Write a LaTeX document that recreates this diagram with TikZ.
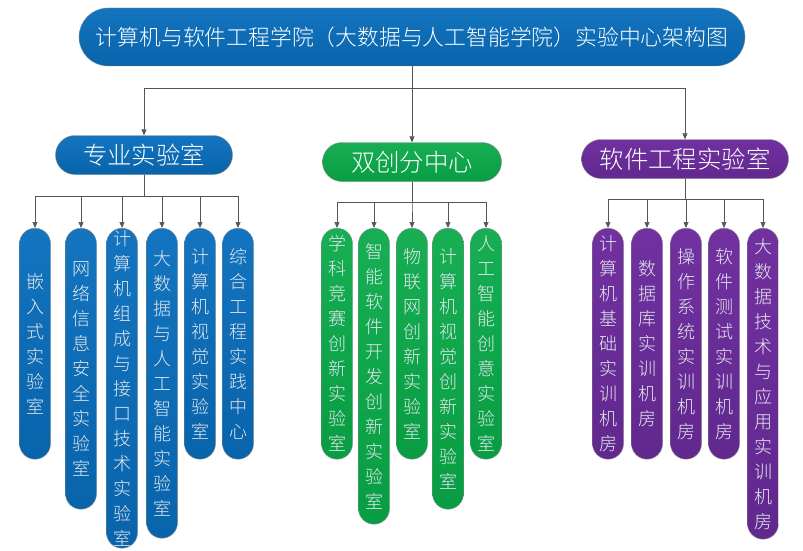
\documentclass[tikz,border=0pt]{standalone}
\usepackage{fontspec}
\setmainfont{Noto Sans CJK SC}[UprightFont={* Light}]
\usetikzlibrary{arrows.meta, positioning}
\XeTeXlinebreaklocale "zh"
\XeTeXlinebreakskip=0pt plus 1pt
\definecolor{BlueTop}{HTML}{1474BF}
\definecolor{BlueBot}{HTML}{0864AB}
\definecolor{GreenTop}{HTML}{17AE54}
\definecolor{GreenBot}{HTML}{089D43}
\definecolor{PurpleTop}{HTML}{7131A0}
\definecolor{PurpleBot}{HTML}{61288E}
\definecolor{LineGray}{HTML}{555555}
\definecolor{EdgeGray}{HTML}{8A8A8A}
\definecolor{LeafText}{HTML}{E4E8EE}

\begin{document}
\begin{tikzpicture}[
        x=1pt, y=-1pt,
        link/.style={-{Triangle[length=6pt, width=5pt]}, draw=LineGray, line width=0.6pt},
        pill/.style={draw=EdgeGray, line width=0.4pt, text=white, inner sep=1pt},
        bluefill/.style={top color=BlueTop, bottom color=BlueBot},
        greenfill/.style={top color=GreenTop, bottom color=GreenBot},
        purplefill/.style={top color=PurpleTop, bottom color=PurpleBot},
        head/.style={pill, bluefill, rounded corners=29pt, minimum width=666pt, minimum height=58pt, font=\fontsize{21.8}{26}\selectfont},
        group/.style={pill, rounded corners=19.5pt, minimum height=39pt, font=\fontsize{24.4}{28}\selectfont},
        leaf/.style={pill, anchor=north, rounded corners=15.5pt, minimum width=31pt, text width=20pt, align=center, font=\fontsize{18}{25}\selectfont, text=LeafText}
      ]
        \useasboundingbox (0,0) rectangle (803,551);

        \node[head] (top) at (412,37) {计算机与软件工程学院（大数据与人工智能学院）实验中心架构图};

        \node[group, bluefill, minimum width=177pt] (pro) at (144,155) {专业实验室};
        \node[group, greenfill, minimum width=179pt] (inn) at (412,162) {双创分中心};
        \node[group, purplefill, minimum width=207pt] (soft) at (685,159) {软件工程实验室};

        \node[leaf, bluefill, minimum height=231pt] (p1) at (35,228) {嵌入式实验室};
        \node[leaf, bluefill, minimum height=281pt] (p2) at (81,228) {网络信息安全实验室};
        \node[leaf, bluefill, minimum height=320pt] (p3) at (122,228) {计算机组成与接口技术实验室};
        \node[leaf, bluefill, minimum height=310pt] (p4) at (162,228) {大数据与人工智能实验室};
        \node[leaf, bluefill, minimum height=231pt] (p5) at (200,228) {计算机视觉实验室};
        \node[leaf, bluefill, minimum height=231pt] (p6) at (238,228) {综合工程实践中心};

        \node[leaf, greenfill, minimum height=231pt] (g1) at (337,228) {学科竞赛创新实验室};
        \node[leaf, greenfill, minimum height=296pt] (g2) at (374,228) {智能软件开发创新实验室};
        \node[leaf, greenfill, minimum height=231pt] (g3) at (412,228) {物联网创新实验室};
        \node[leaf, greenfill, minimum height=281pt] (g4) at (448,228) {计算机视觉创新实验室};
        \node[leaf, greenfill, minimum height=231pt] (g5) at (486,228) {人工智能创意实验室};

        \node[leaf, purplefill, minimum height=231pt] (s1) at (608,228) {计算机基础实训机房};
        \node[leaf, purplefill, minimum height=231pt] (s2) at (647,228) {数据库实训机房};
        \node[leaf, purplefill, minimum height=231pt] (s3) at (686,228) {操作系统实训机房};
        \node[leaf, purplefill, minimum height=231pt] (s4) at (724,228) {软件测试实训机房};
        \node[leaf, purplefill, minimum height=311pt] (s5) at (763,228) {大数据技术与应用实训机房};

        \draw[link] (top.south) -- ++(0,22) -| (pro.north);
        \draw[link] (top.south) -- (inn.north);
        \draw[link] (top.south) -- ++(0,22) -| (soft.north);

        \foreach \n in {p1,p2,p3,p4,p5,p6}
          \draw[link] (pro.south) -- ++(0,22) -| (\n.north);
        \foreach \n in {g1,g2,g3,g4,g5}
          \draw[link] (inn.south) -- ++(0,21) -| (\n.north);
        \foreach \n in {s1,s2,s3,s4,s5}
          \draw[link] (soft.south) -- ++(0,21) -| (\n.north);
      \end{tikzpicture}
\end{document}
